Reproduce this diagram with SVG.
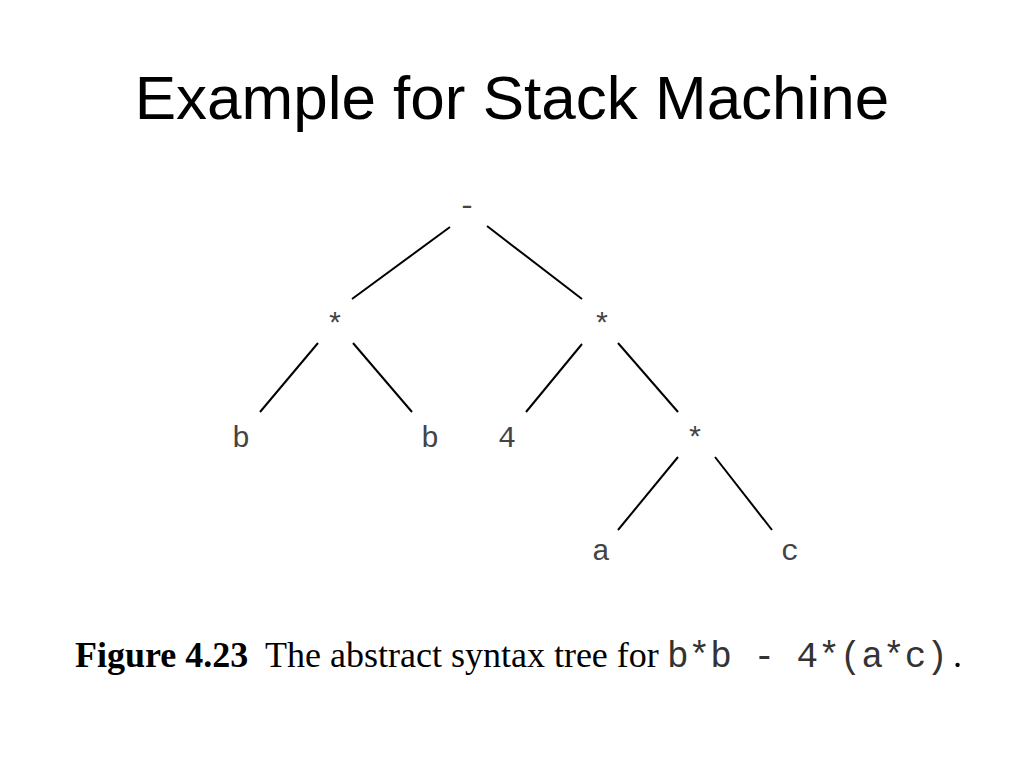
<svg xmlns="http://www.w3.org/2000/svg" width="1024" height="768" viewBox="0 0 1024 768">
<style>
.title{font-family:"Liberation Sans",Arial,sans-serif;font-size:62px;fill:#000}
.lbl{font-family:"Liberation Mono","Courier New",monospace;font-size:30px;fill:#444;text-anchor:middle}
.cap{font-family:"Liberation Serif","Times New Roman",serif;font-size:36px;fill:#000}
.capb{font-family:"Liberation Serif","Times New Roman",serif;font-size:36px;font-weight:bold;fill:#000}
.mono{font-family:"Liberation Mono","Courier New",monospace;font-size:36px;fill:#333}
.edge{stroke:#000;stroke-width:2;fill:none}
</style>
<rect width="1024" height="768" fill="#fff"/>
<text class="title" x="512" y="119" text-anchor="middle">Example for Stack Machine</text>
<g id="connectors">
<line class="edge" x1="450" y1="227" x2="352" y2="299"/>
<line class="edge" x1="487" y1="226" x2="582" y2="299"/>
<line class="edge" x1="318" y1="343" x2="260" y2="412"/>
<line class="edge" x1="353" y1="343" x2="412" y2="412"/>
<line class="edge" x1="582" y1="344" x2="526" y2="412"/>
<line class="edge" x1="618" y1="343" x2="678" y2="412"/>
<line class="edge" x1="678" y1="457" x2="618" y2="530"/>
<line class="edge" x1="715" y1="457" x2="772" y2="530"/>
</g>
<g id="n-root"><text class="lbl" x="467" y="215">-</text></g>
<g id="n-mul-left"><text class="lbl" x="335" y="334">*</text></g>
<g id="n-mul-right"><text class="lbl" x="602" y="334">*</text></g>
<g id="n-b1"><text class="lbl" x="241" y="447">b</text></g>
<g id="n-b2"><text class="lbl" x="430" y="447">b</text></g>
<g id="n-4"><text class="lbl" x="507" y="447">4</text></g>
<g id="n-mul-inner"><text class="lbl" x="695" y="448">*</text></g>
<g id="n-a"><text class="lbl" x="601" y="560">a</text></g>
<g id="n-c"><text class="lbl" x="790" y="560">c</text></g>
<g id="caption">
<text class="capb" x="75" y="667">Figure 4.23</text>
<text class="cap" x="265" y="667">The abstract syntax tree for</text>
<text class="mono" x="667" y="667">b*b - 4*(a*c)</text>
<text class="cap" x="953" y="667">.</text>
</g>
</svg>
